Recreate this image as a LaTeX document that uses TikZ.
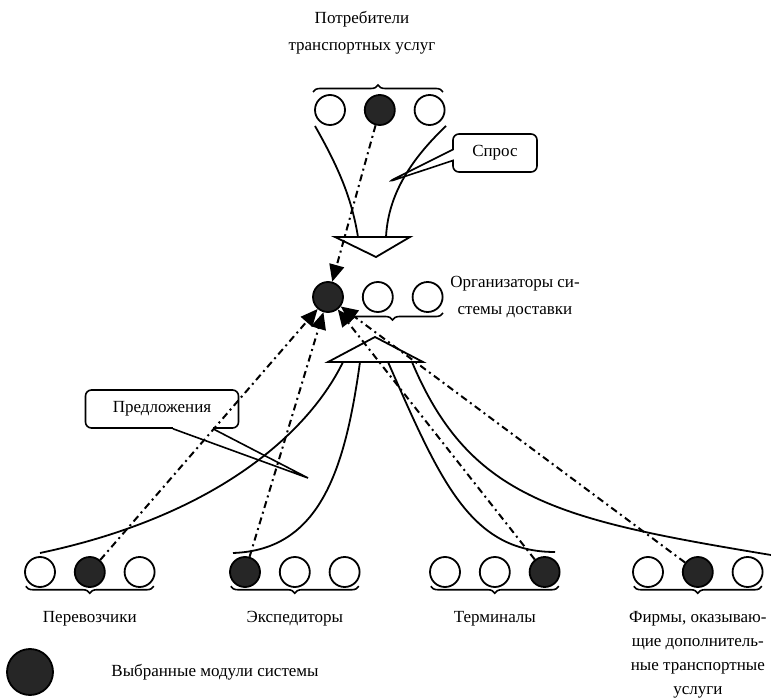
\documentclass[tikz,border=0pt]{standalone}
\usepackage{fontspec}
\setmainfont{Liberation Serif}
\usetikzlibrary{arrows.meta,positioning,decorations.pathreplacing,shapes.callouts}

\begin{document}
\begin{tikzpicture}[x=1pt, y=-1pt, >={Triangle[length=17pt,width=15pt]},
	   font=\fontsize{17}{24}\selectfont, node distance=18pt,
	   mod/.style={draw, circle, line width=1.8pt, minimum size=30pt, inner sep=0pt},
	   sel/.style={mod, fill=black!85},
	   dd/.style={->, line width=2pt, dash pattern=on 7pt off 4pt on 2pt off 4pt},
	   flow/.style={line width=1.8pt},
	   br/.style={decorate, decoration={brace, amplitude=7pt}, line width=1.6pt},
	   callbox/.style={draw, rounded corners=6pt, line width=1.6pt, minimum height=38pt},
	   lbl/.style={align=center}]
	  \useasboundingbox (0,0) rectangle (771,700);
	  % consumers
	  \node[lbl] (cons) at (362,33) {Потребители\\[3pt]транспортных услуг};
	  \node[mod] (t1) at (330,110) {};
	  \node[sel, right=of t1] (t2) {};
	  \node[mod, right=of t2] (t3) {};
	  \draw[br] (313,92) -- (443,92);
	  \draw[flow] (315,126) .. controls (340,170) and (352,200) .. (358,237);
	  \draw[flow] (446,126) .. controls (405,165) and (388,200) .. (386,237);
	  \draw[flow] (335,237) -- (410,237) -- (376,257) -- cycle;
	  \node[callbox, rectangle callout, minimum width=84pt, callout pointer width=11pt,
	        callout absolute pointer={(388,182)}] (dem) at (495,153) {Спрос};
	  % organisers
	  \node[sel] (m1) at (328,297) {};
	  \node[mod, right=of m1] (m2) {};
	  \node[mod, right=of m2] (m3) {};
	  \draw[br] (443,313) -- (342,313);
	  \node[lbl] (org) at (515,297) {Организаторы си-\\[3pt]стемы доставки};
	  \draw[flow] (328,362) -- (423,362) -- (375,337) -- cycle;
	  % supply
	  \draw[flow] (343,362) .. controls (310,430) and (220,515) .. (40,553);
	  \draw[flow] (360,362) .. controls (345,470) and (320,550) .. (233,553);
	  \draw[flow] (388,362) .. controls (440,480) and (470,552) .. (555,552);
	  \draw[flow] (412,362) .. controls (470,500) and (560,520) .. (771,555);
	  \node[callbox, minimum width=153pt] (sup) at (162,409) {Предложения};
	  \coordinate (suptip) at (308,478);
	  \fill[white] ([xshift=11pt,yshift=3pt]sup.south) rectangle ([xshift=51pt,yshift=-3pt]sup.south);
	  \draw[line width=1.6pt, line join=miter] ([xshift=11pt]sup.south) -- (suptip) -- ([xshift=51pt]sup.south);
	  % modules
	  \node[mod] (p1) at (40,572) {};
	  \node[sel, right=of p1] (p2) {};
	  \node[mod, right=of p2] (p3) {};
	  \node[sel] (e1) at (245,572) {};
	  \node[mod, right=of e1] (e2) {};
	  \node[mod, right=of e2] (e3) {};
	  \node[mod] (r1) at (445,572) {};
	  \node[mod, right=of r1] (r2) {};
	  \node[sel, right=of r2] (r3) {};
	  \node[mod] (f1) at (648,572) {};
	  \node[sel, right=of f1] (f2) {};
	  \node[mod, right=of f2] (f3) {};
	  \draw[br] ([shift={(3,3)}]p3.south east) -- ([shift={(-3,3)}]p1.south west);
	  \draw[br] ([shift={(3,3)}]e3.south east) -- ([shift={(-3,3)}]e1.south west);
	  \draw[br] ([shift={(3,3)}]r3.south east) -- ([shift={(-3,3)}]r1.south west);
	  \draw[br] ([shift={(3,3)}]f3.south east) -- ([shift={(-3,3)}]f1.south west);
	  \node[below=20pt of p2] (carr) {Перевозчики};
	  \node[below=20pt of e2] (fwd) {Экспедиторы};
	  \node[below=20pt of r2] (term) {Терминалы};
	  \node[lbl, below=20pt of f2] (firms) {Фирмы, оказываю-\\щие дополнитель-\\ные транспортные\\услуги};
	  % choices
	  \draw[dd] (t2) -- (m1);
	  \draw[dd] (p2) -- (m1);
	  \draw[dd] (e1) -- (m1);
	  \draw[dd] (r3) -- (m1);
	  \draw[dd] (f2) -- (m1);
	  % legend
	  \node[sel, minimum size=46pt] (key) at (30,672) {};
	  \node[right=54pt of key] (keytxt) {Выбранные модули системы};
	\end{tikzpicture}
\end{document}
